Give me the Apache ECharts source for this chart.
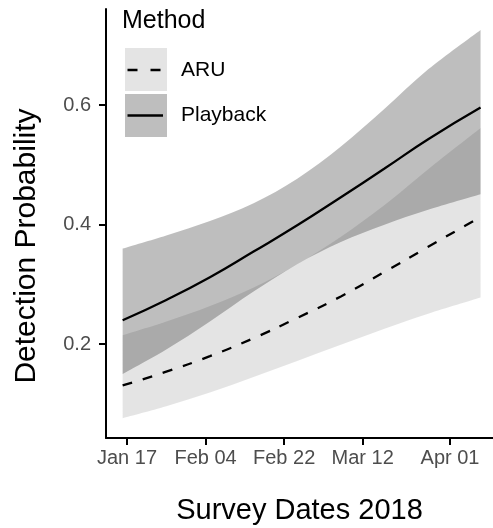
<!DOCTYPE html>
<html><head><meta charset="utf-8">
<script src="https://cdn.jsdelivr.net/npm/echarts@6/dist/echarts.min.js"></script>
<style>html,body{margin:0;padding:0;background:#fff}#c{width:493px;height:528px}</style>
</head><body><div id="c"></div>
<script>
// ---- data ----
const sampleDates   = ['2018-01-16','2018-01-26','2018-02-05','2018-02-15','2018-02-25','2018-03-07','2018-03-17','2018-03-27','2018-04-08'];
const aruMean       = [0.131, 0.154, 0.180, 0.210, 0.244, 0.280, 0.321, 0.363, 0.413];
const aruLower      = [0.076, 0.096, 0.119, 0.145, 0.172, 0.199, 0.226, 0.251, 0.278];
const aruUpper      = [0.215, 0.238, 0.264, 0.295, 0.334, 0.380, 0.433, 0.493, 0.562];
const pbMean        = [0.240, 0.274, 0.312, 0.355, 0.399, 0.446, 0.494, 0.543, 0.596];
const pbLower       = [0.150, 0.191, 0.238, 0.288, 0.334, 0.371, 0.400, 0.425, 0.451];
const pbUpper       = [0.360, 0.382, 0.406, 0.436, 0.477, 0.531, 0.594, 0.660, 0.726];
const tickDates     = ['2018-01-17','2018-02-04','2018-02-22','2018-03-12','2018-04-01'];
const tickLabels    = ['Jan 17','Feb 04','Feb 22','Mar 12','Apr 01'];
const yTicks        = [0.2, 0.4, 0.6];

// ---- helpers ----
const DAY = 86400000;
const origin = Date.UTC(2018,0,17);
const toDay = s => { const [y,m,d] = s.split('-').map(Number); return Math.round((Date.UTC(y,m-1,d)-origin)/DAY); };
const xs = sampleDates.map(toDay);
const tickDays = tickDates.map(toDay);
const pairs = arr => xs.map((x,i)=>[x, arr[i]]);

const FONT = '"Liberation Sans", Arial, Helvetica, sans-serif';
const chart = echarts.init(document.getElementById('c'), null, {renderer:'canvas'});

// Catmull-Rom spline through pixel points -> SVG path segments (no initial M)
function splineSegs(p){
  let d = '';
  for (let i=0;i<p.length-1;i++){
    const p0 = p[Math.max(i-1,0)], p1 = p[i], p2 = p[i+1], p3 = p[Math.min(i+2,p.length-1)];
    const c1 = [p1[0]+(p2[0]-p0[0])/6, p1[1]+(p2[1]-p0[1])/6];
    const c2 = [p2[0]-(p3[0]-p1[0])/6, p2[1]-(p3[1]-p1[1])/6];
    d += ` C${c1[0]},${c1[1]} ${c2[0]},${c2[1]} ${p2[0]},${p2[1]}`;
  }
  return d;
}
function bandSeries(name, lower, upper, fill){
  return {
    type:'custom', name, silent:true, z:1,
    data:[[xs[0], lower[0]]],
    encode:{x:0, y:1},
    renderItem:(params, api)=>{
      const up = xs.map((x,i)=>api.coord([x, upper[i]]));
      const lo = xs.map((x,i)=>api.coord([x, lower[i]])).reverse();
      const d = `M${up[0][0]},${up[0][1]}` + splineSegs(up) + ` L${lo[0][0]},${lo[0][1]}` + splineSegs(lo) + ' Z';
      return {type:'path', shape:{pathData:d}, style:{fill}};
    }
  };
}

const option = {
  animation:false,
  grid:{left:106, top:9, right:0, bottom:90, containLabel:false, outerBoundsMode:'none'},
  xAxis:{
    type:'value', min:-4.81, max:83.85,
    name:'Survey Dates 2018', nameLocation:'middle', nameGap:58,
    nameTextStyle:{fontFamily:FONT, fontSize:29, color:'#000'},
    axisLine:{show:true, onZero:false, lineStyle:{color:'#000', width:2}},
    axisTick:{show:true, length:7, lineStyle:{color:'#000', width:2}, customValues:tickDays},
    axisLabel:{show:true, margin:10, fontFamily:FONT, fontSize:20, color:'#4d4d4d',
      customValues:tickDays,
      formatter:v=>{const i=tickDays.indexOf(Math.round(v)); return i>=0?tickLabels[i]:'';}},
    splitLine:{show:false}
  },
  yAxis:{
    type:'value', min:0.043, max:0.761,
    axisLine:{show:true, onZero:false, lineStyle:{color:'#000', width:2}},
    axisTick:{show:true, length:7, lineStyle:{color:'#000', width:2}, customValues:yTicks},
    axisLabel:{show:true, margin:15, fontFamily:FONT, fontSize:20, color:'#4d4d4d',
      customValues:yTicks, formatter:v=>v.toFixed(1)},
    splitLine:{show:false}
  },
  series:[
    bandSeries('pbBand', pbLower, pbUpper, 'rgba(0,0,0,0.255)'),
    bandSeries('aruBand', aruLower, aruUpper, 'rgba(0,0,0,0.106)'),
    {type:'line', name:'ARU', data:pairs(aruMean), smooth:true, symbol:'none',
      lineStyle:{color:'#000', width:2.3, type:[10,11]}, z:3},
    {type:'line', name:'Playback', data:pairs(pbMean), smooth:true, symbol:'none',
      lineStyle:{color:'#000', width:2.3}, z:3}
  ],
  graphic:[
    {type:'text', x:27, y:246, rotation:Math.PI/2,
      style:{text:'Detection Probability', font:'30px '+FONT, fill:'#000', align:'center', verticalAlign:'middle'}},
    {type:'text', left:122, top:9, style:{text:'Method', font:'25px '+FONT, fill:'#000'}},
    {type:'rect', shape:{x:125, y:48, width:42, height:43}, style:{fill:'#e4e4e4'}},
    {type:'line', shape:{x1:127.5, y1:70, x2:163, y2:70}, style:{stroke:'#000', lineWidth:2.3, lineDash:[10,13]}},
    {type:'rect', shape:{x:125, y:94, width:42, height:43}, style:{fill:'#bebebe'}},
    {type:'line', shape:{x1:127.5, y1:115.5, x2:163, y2:115.5}, style:{stroke:'#000', lineWidth:2.3}},
    {type:'text', left:181, top:60, style:{text:'ARU', font:'21px '+FONT, fill:'#000'}},
    {type:'text', left:181, top:105, style:{text:'Playback', font:'21px '+FONT, fill:'#000'}}
  ]
};
chart.setOption(option);
</script></body></html>
